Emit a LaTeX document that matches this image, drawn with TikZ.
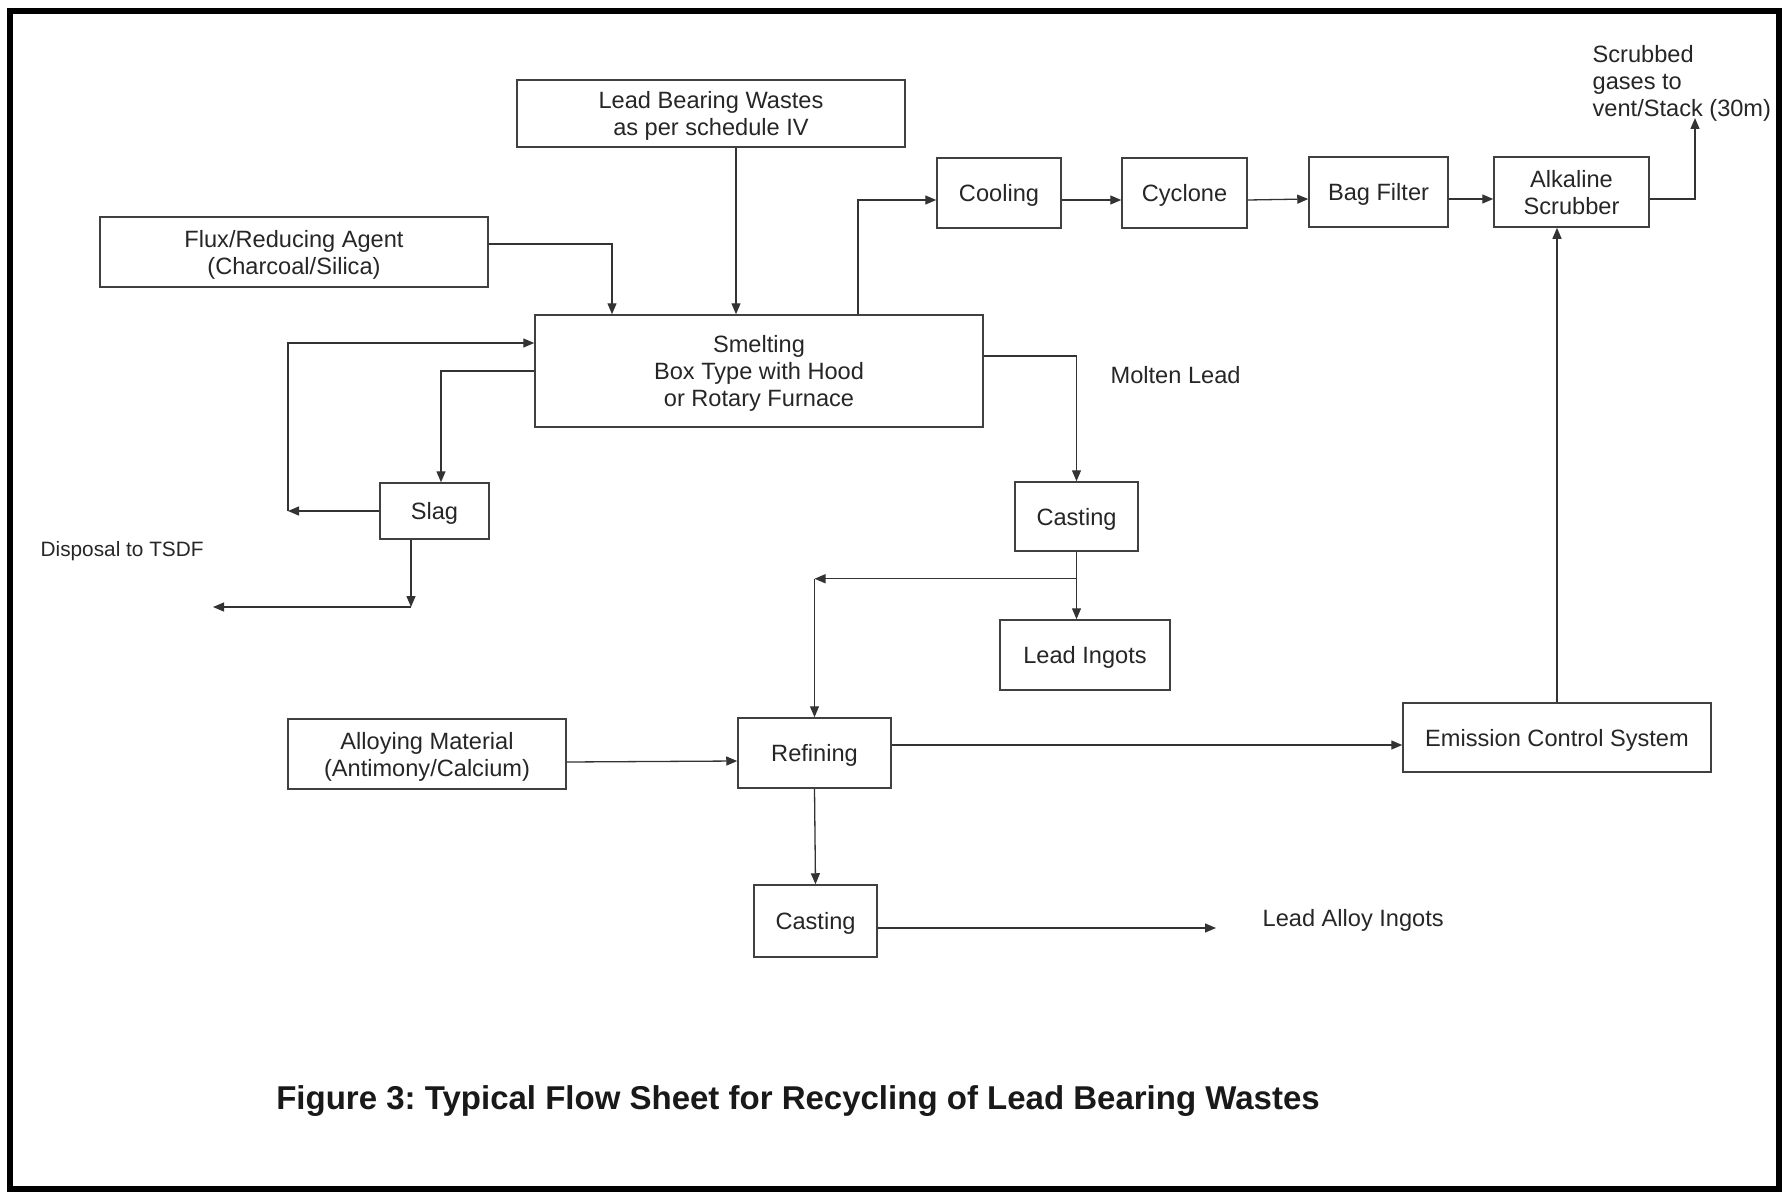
\documentclass[tikz,border=0pt]{standalone}
\usepackage{fontspec}
\setmainfont{Liberation Sans}
\usetikzlibrary{arrows.meta}
\frenchspacing

\begin{document}
\begin{tikzpicture}[x=0.5pt,y=-0.5pt,>={Triangle[length=5.5pt,width=4.5pt]},line width=0.65pt,draw=black!80,
box/.style={draw=black!75,inner sep=0pt,align=center,line width=0.75pt,text depth=0pt,text=black!85,font=\fontsize{11.8}{13.5}\selectfont},
txt/.style={inner sep=0pt,align=left,text=black!85,font=\fontsize{11.8}{13.5}\selectfont}]

\useasboundingbox (0,0) rectangle (1783,1193);
\draw[line width=3pt,black] (10,11) rectangle (1779,1189);

\node[box,minimum width=194pt,minimum height=33.5pt] (lbw) at (711,113.5) {Lead Bearing Wastes\\as per schedule IV};
\node[box,minimum width=194pt,minimum height=35pt] (flux) at (294,252) {Flux/Reducing Agent\\(Charcoal/Silica)};
\node[box,minimum width=224pt,minimum height=56pt] (smelt) at (759,371) {Smelting\\Box Type with Hood\\or Rotary Furnace};
\node[box,minimum width=62pt,minimum height=35pt] (cool) at (999,193) {Cooling};
\node[box,minimum width=62.5pt,minimum height=35pt] (cyc) at (1184.5,193) {Cyclone};
\node[box,minimum width=69.5pt,minimum height=35pt] (bag) at (1378.5,192) {Bag Filter};
\node[box,minimum width=77.5pt,minimum height=35pt] (scrub) at (1571.5,192) {Alkaline\\Scrubber};
\node[box,minimum width=54.5pt,minimum height=28pt] (slag) at (434.5,511) {Slag};
\node[box,minimum width=61.5pt,minimum height=34.5pt] (cast1) at (1076.5,516.5) {Casting};
\node[box,minimum width=85pt,minimum height=35pt] (ingot) at (1085,655) {Lead Ingots};
\node[box,minimum width=139pt,minimum height=35pt] (alloy) at (427,754) {Alloying Material\\(Antimony/Calcium)};
\node[box,minimum width=76.5pt,minimum height=35pt] (refin) at (814.5,753) {Refining};
\node[box,minimum width=154pt,minimum height=34.5pt] (emis) at (1557,737.5) {Emission Control System};
\node[box,minimum width=61.5pt,minimum height=36pt] (cast2) at (815.5,921) {Casting};

\node[txt,anchor=north west] (gas) at (1592,45) {Scrubbed\\gases to\\vent/Stack (30m)};
\node[txt,anchor=west] (molten) at (1110,375) {Molten Lead};
\node[txt,anchor=west] (lai) at (1262,920) {Lead Alloy Ingots};
\node[txt,anchor=base west,font=\fontsize{10.4}{12}\selectfont] (tsdf) at (40,556) {Disposal to TSDF};
\node[inner sep=0pt,text=black!90,font=\bfseries\fontsize{16.5}{19}\selectfont] (ttl) at (798,1101) {Figure 3: Typical Flow Sheet for Recycling of Lead Bearing Wastes};

\coordinate (vent) at (1695,118);
\coordinate (rl) at (288,511);
\coordinate (dump) at (213,607);
\coordinate (ali) at (1216,928);
\coordinate (br) at ([yshift=-13.5pt]cast1.south);
\coordinate (sd) at ([xshift=-11.75pt]slag.south);

% feed to smelting
\draw[->] ([xshift=12.5pt]lbw.south) -- ([xshift=12.5pt]lbw.south |- smelt.north);
\draw[->] ([yshift=4pt]flux.east) -| ([xshift=-73.5pt]smelt.north);

% gas line
\draw[->] ([xshift=49.5pt]smelt.north) |- ([yshift=-3.5pt]cool.west);
\draw[->] ([yshift=-3.5pt]cool.east) -- ([yshift=-3.5pt]cyc.west);
\draw[->] ([yshift=-3.5pt]cyc.east) -- ([yshift=-3.5pt]bag.west);
\draw[->] ([yshift=-3.5pt]bag.east) -- ([yshift=-3.5pt]scrub.west);
\draw[->] ([yshift=-3.5pt]scrub.east) -| (vent);
\draw[->] (emis.north) -- (emis.north |- scrub.south);

% slag
\draw[->] (smelt.west) -| ([xshift=3.25pt]slag.north);
\draw[->] (slag.west) -- (rl);
\draw[->] (rl) |- ([yshift=14pt]smelt.west);
\draw[->] (sd) -- (sd |- dump);
\draw[->] (sd |- dump) -- (dump);

% lead
\draw[->] ([yshift=7.5pt]smelt.east) -| (cast1.north);
\draw[->] (cast1.south) -- (cast1.south |- ingot.north);
\draw[->] (br) -- (br -| refin.north);
\draw[->] (br -| refin.north) -- (refin.north);

% refining
\draw[->] ([yshift=-4pt]alloy.east) -- ([yshift=-4pt]refin.west);
\draw[->] ([yshift=4pt]refin.east) -- ([yshift=-3.75pt]emis.west);
\draw[->] (refin.south) -- (cast2.north);
\draw[->] ([yshift=-3.5pt]cast2.east) -- (ali);
\end{tikzpicture}
\end{document}
